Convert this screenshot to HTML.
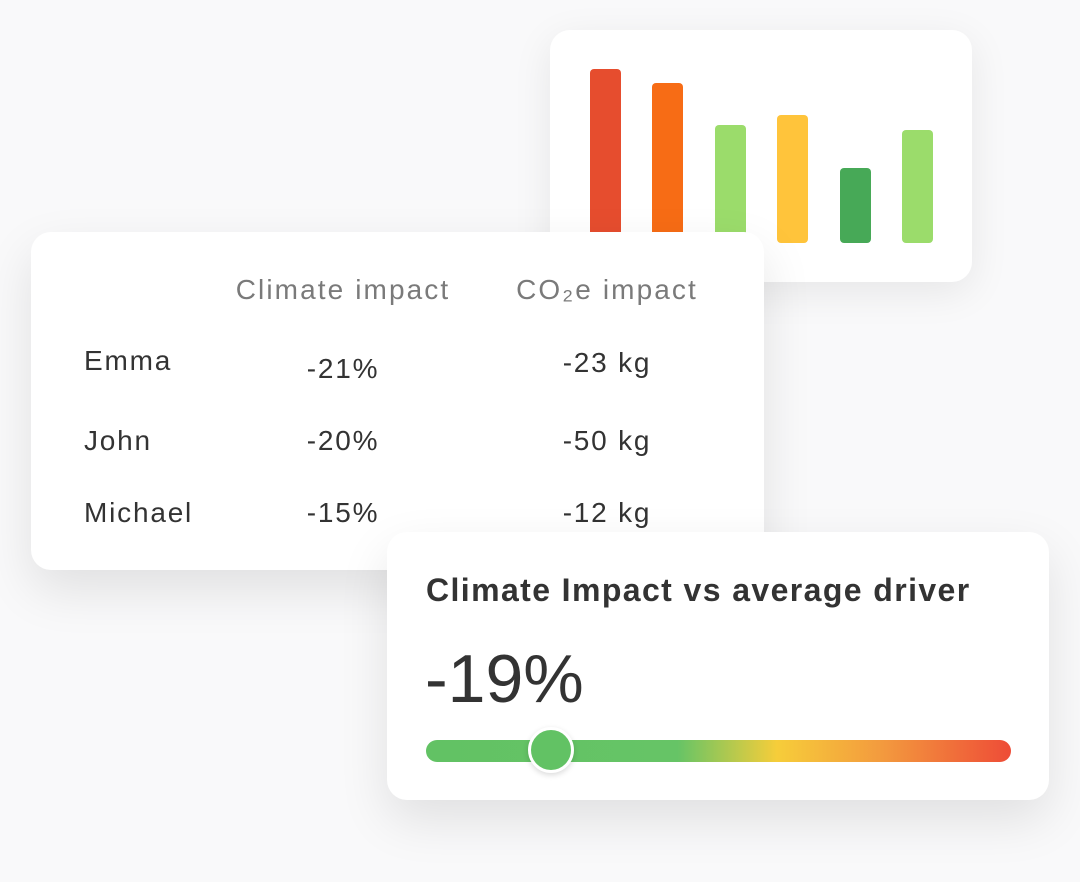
<!DOCTYPE html>
<html><head><meta charset="utf-8"><style>
body{margin:0;width:1080px;height:882px;background:#f9f9fa;position:relative;overflow:hidden;font-family:"Liberation Sans",sans-serif;color:#333}
.card{position:absolute;background:#fff;border-radius:20px;box-shadow:0 10px 40px rgba(0,0,0,0.08)}
.bar{position:absolute;width:31px;border-radius:4px;bottom:39px}
.t{position:absolute;font-size:28px;white-space:nowrap;letter-spacing:1.8px}
.c{transform:translateX(-50%)}
.h{color:#7a7a7a;font-size:28px;letter-spacing:2.1px}
</style></head><body>
<div class="card" style="left:550px;top:30px;width:422px;height:252px">
<div class="bar" style="left:40px;height:174px;background:#e64d2e"></div>
<div class="bar" style="left:102px;height:160px;background:#f76c15"></div>
<div class="bar" style="left:165px;height:118px;background:#9bdc6b"></div>
<div class="bar" style="left:227px;height:128px;background:#ffc43b"></div>
<div class="bar" style="left:290px;height:75px;background:#47a957"></div>
<div class="bar" style="left:352px;height:113px;background:#9bdc6b"></div>
</div>
<div class="card" style="left:31px;top:232px;width:733px;height:338px;box-shadow:0 20px 50px rgba(0,0,0,0.1)"></div>
<div class="t h c" style="left:343px;top:274px">Climate impact</div>
<div class="t h c" style="left:607px;top:274px">CO₂e impact</div>
<div class="t" style="left:84px;top:345px">Emma</div>
<div class="t c" style="left:343px;top:353px">-21%</div>
<div class="t c" style="left:607px;top:347px">-23 kg</div>
<div class="t" style="left:84px;top:425px">John</div>
<div class="t c" style="left:343px;top:425px">-20%</div>
<div class="t c" style="left:607px;top:425px">-50 kg</div>
<div class="t" style="left:84px;top:497px">Michael</div>
<div class="t c" style="left:343px;top:497px">-15%</div>
<div class="t c" style="left:607px;top:497px">-12 kg</div>
<div class="card" style="left:387px;top:532px;width:662px;height:268px;box-shadow:0 20px 50px rgba(0,0,0,0.1)">
<div class="t" style="left:39px;top:40px;font-size:32px;font-weight:bold;color:#333;letter-spacing:1.4px">Climate Impact vs average driver</div>
<div class="t" style="left:38px;top:108px;font-size:68px;color:#333;letter-spacing:0">-19%</div>
<div style="position:absolute;left:39px;top:208px;width:585px;height:22px;border-radius:11px;background:linear-gradient(90deg,#62c264 0%,#66c466 43%,#f6cd3a 60%,#f39a3e 78%,#ee4c37 100%)"></div>
<div style="position:absolute;left:141px;top:195px;width:40px;height:40px;border-radius:50%;background:#62c264;border:3px solid #fff;box-shadow:0 2px 6px rgba(0,0,0,0.15)"></div>
</div>
</body></html>
